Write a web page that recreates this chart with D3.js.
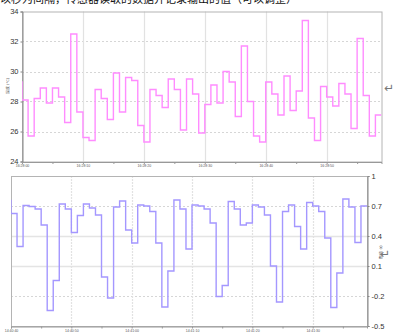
<!DOCTYPE html>
<html>
<head>
<meta charset="utf-8">
<script src="https://cdn.jsdelivr.net/npm/d3@7"></script>
<style>
  body { margin: 0; background: #fff; }
  svg { display: block; font-family: "DejaVu Sans", sans-serif; }
</style>
</head>
<body>
<div id="chart"></div>
<script>
// Top chart: temperature, one reading per second (first value sits before the axis start)
const tempValues = [29.3,
  28.1, 25.7, 28.2, 28.9, 27.9, 28.9, 28.3, 26.6, 32.5, 27.3,
  25.6, 25.4, 28.8, 28.2, 26.8, 29.9, 27.3, 29.6, 29.4, 26.4,
  25.3, 28.8, 28.4, 27.6, 29.5, 28.8, 26.1, 29.5, 28.5, 25.9,
  27.8, 29.1, 27.9, 30.0, 29.3, 27.0, 31.7, 28.0, 25.7, 25.3,
  29.3, 28.5, 27.1, 29.7, 27.4, 28.7, 33.4, 26.9, 25.4, 29.0,
  28.3, 27.7, 29.2, 28.5, 26.2, 32.2, 28.4, 25.7, 27.1];
const tempTicks = [24, 26, 28, 30, 32, 34];
const tempTimeLabels = ["16:28:00", "16:28:10", "16:28:20", "16:28:30", "16:28:40", "16:28:50"];

// Bottom chart: second signal
const corrValues = [0.755,
  0.625, 0.295, 0.705, 0.695, 0.67, 0.51, -0.345, -0.045, 0.72, 0.67,
  0.435, 0.605, 0.72, 0.68, 0.61, -0.01, -0.22, 0.69, 0.75, 0.46,
  0.33, 0.71, 0.70, 0.645, 0.33, -0.31, 0.05, 0.76, 0.67, 0.27,
  0.71, 0.70, 0.67, 0.53, -0.205, -0.095, 0.745, 0.67, 0.51, 0.53,
  0.71, 0.69, 0.61, 0.10, -0.26, 0.645, 0.71, 0.495, 0.27, 0.735,
  0.70, 0.645, 0.38, -0.315, 0.03, 0.77, 0.69, 0.335, 0.70];
const corrTicks = [-0.5, -0.2, 0.1, 0.4, 0.7, 1];
const corrTimeLabels = ["14:40:40", "14:40:50", "14:41:00", "14:41:10", "14:41:20", "14:41:30"];

const width = 397;
const height = 335;

const svg = d3.select("#chart")
  .append("svg")
    .attr("width", width)
    .attr("height", height);

// clipped document line above the charts
svg.append("text")
  .attr("x", 0)
  .attr("y", 3)
  .attr("font-family", "'Noto Sans CJK SC', sans-serif")
  .attr("font-size", 11)
  .attr("fill", "#111")
  .text("以秒为间隔，传感器读取的数据并记录输出的值（可以调整）");

const toPoints = values => {
  const pts = values.map((v, i) => ({t: i - 1, v}));
  pts.push({t: values.length - 1, v: values[values.length - 1]});
  return pts;
};

const drawPanel = (opts) => {
  const {id, values, xRange, yDomain, yRange, yTicks, timeLabels, colour, axisSide} = opts;
  const solid = opts.solidGrid || [];

  const xScale = d3.scaleLinear().domain([0, 59]).range(xRange);
  const yScale = d3.scaleLinear().domain(yDomain).range(yRange);
  const [x0, x1] = xRange;
  const [yb, yt] = yRange;

  const g = svg.append("g");

  g.append("clipPath")
    .attr("id", id)
    .append("rect")
      .attr("x", x0)
      .attr("y", yt)
      .attr("width", x1 - x0)
      .attr("height", yb - yt);

  // horizontal grid
  g.selectAll(".hgrid")
    .data(yTicks.slice(1, -1))
    .join("line")
      .attr("x1", x0)
      .attr("x2", x1)
      .attr("y1", d => Math.round(yScale(d)) + 0.5)
      .attr("y2", d => Math.round(yScale(d)) + 0.5)
      .attr("stroke", d => solid.includes(d) ? "#e4e4e4" : "#d6d6d6")
      .attr("stroke-width", d => solid.includes(d) ? 1.6 : 1)
      .attr("stroke-dasharray", d => solid.includes(d) ? null : "2,2");

  // vertical grid
  const gridTimes = d3.range(10, 59, 10);
  g.selectAll(".vgrid")
    .data(gridTimes)
    .join("line")
      .attr("x1", d => Math.round(xScale(d)) + 0.5)
      .attr("x2", d => Math.round(xScale(d)) + 0.5)
      .attr("y1", yt)
      .attr("y2", yb)
      .attr("stroke", "#e2e2e2")
      .attr("stroke-width", 1.2)
      .attr("stroke-dasharray", opts.dottedV ? "2,1" : null);

  // frame
  g.append("rect")
    .attr("x", x0 + 0.5)
    .attr("y", yt + 0.5)
    .attr("width", x1 - x0)
    .attr("height", yb - yt)
    .attr("fill", "none")
    .attr("stroke", "#b4b4b4");

  // y axis (left or right)
  const yAxis = (axisSide === "left" ? d3.axisLeft(yScale) : d3.axisRight(yScale))
    .tickValues(yTicks)
    .tickSize(2)
    .tickPadding(2)
    .tickFormat(d => d);
  const yAxisG = g.append("g")
    .attr("transform", `translate(${axisSide === "left" ? x0 + 0.5 : x1 + 0.5}, 0)`)
    .call(yAxis);
  yAxisG.select(".domain").attr("stroke", "#888");
  yAxisG.selectAll(".tick line").attr("stroke", "#888");
  yAxisG.selectAll("text")
    .attr("font-size", 7.5)
    .attr("fill", "#333")
    .attr("font-family", "'Liberation Sans', sans-serif");

  // time axis
  const xAxis = d3.axisBottom(xScale)
    .tickValues(d3.range(0, 59, 5))
    .tickSize(2)
    .tickPadding(1)
    .tickFormat(d => d % 10 === 0 ? timeLabels[d / 10] : "");
  const xAxisG = g.append("g")
    .attr("transform", `translate(0, ${yb + 0.5})`)
    .call(xAxis);
  xAxisG.select(".domain").attr("stroke", "#999");
  xAxisG.selectAll(".tick line").attr("stroke", "#999");
  xAxisG.selectAll("text")
    .attr("font-size", 3.5)
    .attr("fill", "#555");

  // step line
  const line = d3.line()
    .x(d => xScale(d.t))
    .y(d => yScale(d.v))
    .curve(d3.curveStepAfter);
  g.append("path")
    .datum(toPoints(values))
    .attr("clip-path", `url(#${id})`)
    .attr("d", line)
    .attr("fill", "none")
    .attr("stroke", colour)
    .attr("stroke-width", 1.4);

  return g;
};

const topPanel = drawPanel({
  id: "clip-top",
  values: tempValues,
  xRange: [22, 381.5],
  yDomain: [24, 34],
  yRange: [161.5, 11.5],
  yTicks: tempTicks,
  timeLabels: tempTimeLabels,
  colour: "#ff8cff",
  axisSide: "left"
});

topPanel.append("text")
  .attr("transform", "translate(9, 86) rotate(-90)")
  .attr("text-anchor", "middle")
  .attr("font-size", 3.5)
  .attr("fill", "#444")
  .text("温度 (°C)");

const bottomPanel = drawPanel({
  id: "clip-bottom",
  values: corrValues,
  xRange: [11, 367],
  yDomain: [-0.5, 1],
  yRange: [326, 176],
  yTicks: corrTicks,
  timeLabels: corrTimeLabels,
  colour: "#a497ff",
  axisSide: "right",
  solidGrid: [0.4, 0.1],
  dottedV: true
});

bottomPanel.append("text")
  .attr("transform", "translate(382, 252) rotate(-90)")
  .attr("text-anchor", "middle")
  .attr("font-size", 3.5)
  .attr("fill", "#444")
  .text("数值 (r)");

// paragraph marks from the document
svg.selectAll(".para")
  .data([[384, 92], [380, 258]])
  .join("text")
    .attr("x", d => d[0])
    .attr("y", d => d[1])
    .attr("font-size", 12)
    .attr("fill", "#777")
    .text("↵");
</script>
</body>
</html>
